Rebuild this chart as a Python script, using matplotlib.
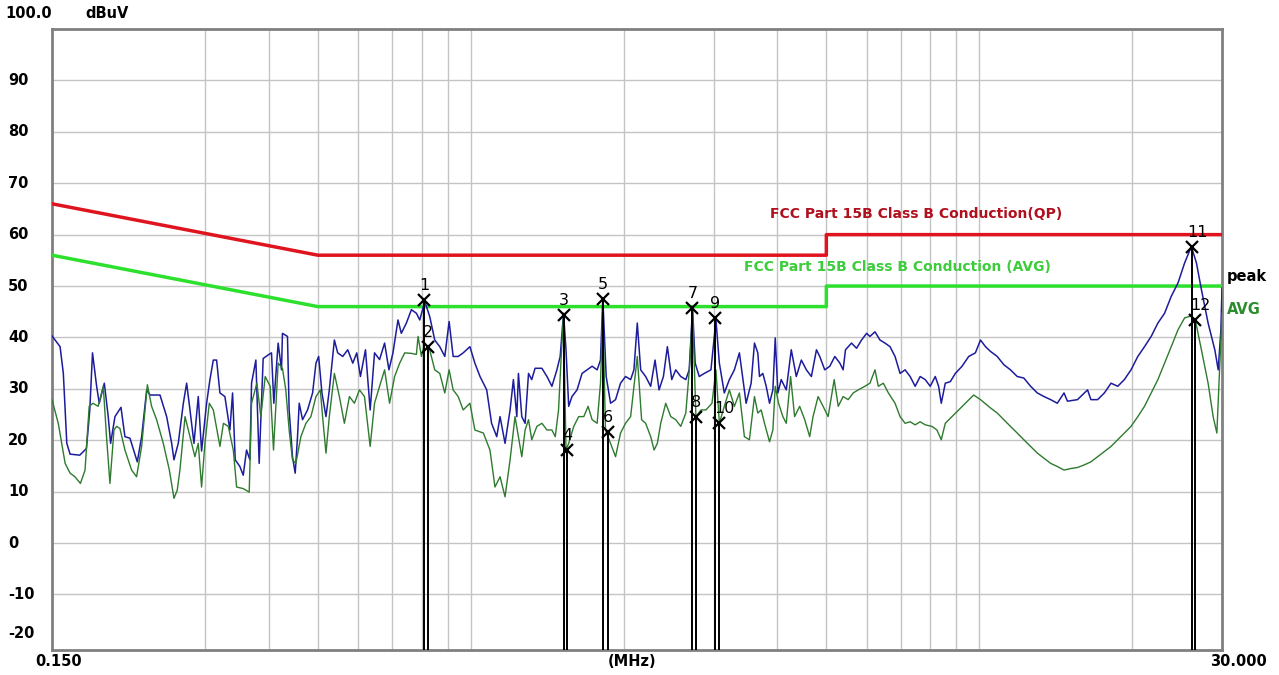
import matplotlib
matplotlib.use("Agg")
import matplotlib.pyplot as plt
import matplotlib.transforms as mtransforms

# peak trace (MHz, dBuV)
peak_freq = [0.150, 0.1556, 0.1579, 0.1604, 0.1628, 0.1701, 0.1753, 0.1780, 0.1802, 0.1836,
             0.1858, 0.1901, 0.1935, 0.1956, 0.1995, 0.2050, 0.2087, 0.2135, 0.2207, 0.2251,
             0.2303, 0.2338, 0.2446, 0.2521, 0.2579, 0.2606, 0.2657, 0.2719, 0.2760, 0.2802,
             0.2853, 0.2909, 0.2953, 0.3021, 0.3067, 0.3114, 0.3161, 0.3209, 0.3282, 0.3357,
             0.3398, 0.3439, 0.3512, 0.3566, 0.3620, 0.3675, 0.3703, 0.3776, 0.3833, 0.3903,
             0.3992, 0.4053, 0.4096, 0.4177, 0.4241,
             0.4259, 0.4357, 0.4390, 0.4457, 0.4512, 0.4560, 0.4595, 0.4665, 0.4772, 0.4882,
             0.4957, 0.5018, 0.5093, 0.5187, 0.5266, 0.5388, 0.5470, 0.5596, 0.5724, 0.5856,
             0.5963, 0.6063, 0.6203, 0.6336, 0.6463, 0.6612, 0.6764, 0.6898, 0.7025, 0.7187,
             0.7296, 0.7465, 0.7637, 0.7812, 0.7932, 0.8114, 0.8296, 0.8489, 0.8684, 0.8884,
             0.9060, 0.9226, 0.9438, 0.9656, 0.9954, 1.018, 1.042, 1.074, 1.098, 1.124,
             1.141, 1.167, 1.194, 1.212, 1.231,
             1.240, 1.259, 1.278, 1.298, 1.317, 1.337, 1.379, 1.411, 1.443, 1.476,
             1.498, 1.521, 1.538, 1.557, 1.580, 1.617, 1.654, 1.692, 1.731, 1.771,
             1.798, 1.817, 1.845, 1.882, 1.925, 1.969, 2.014, 2.061, 2.092, 2.124,
             2.157, 2.206, 2.257, 2.302, 2.344, 2.391, 2.434, 2.483, 2.528, 2.586,
             2.646, 2.687, 2.728, 2.761, 2.812, 2.877, 2.965, 3.033, 3.080, 3.150,
             3.223, 3.297, 3.373, 3.435, 3.477, 3.557,
             3.611, 3.666, 3.694, 3.750, 3.808, 3.866, 3.925, 3.967, 4.015, 4.076,
             4.170, 4.266, 4.364, 4.465, 4.568, 4.673, 4.781, 4.853, 4.964, 5.079,
             5.196, 5.316, 5.395, 5.453, 5.604, 5.733, 5.865, 6.000, 6.092, 6.232,
             6.375, 6.522, 6.672, 6.825, 6.982, 7.143, 7.308, 7.476, 7.648, 7.824,
             8.004, 8.188, 8.314, 8.414, 8.569, 8.766, 8.967, 9.245, 9.528, 9.820,
             10.05, 10.28,
             10.51, 10.84, 11.17, 11.51, 11.87, 12.23, 12.61, 13.00, 13.40, 13.81,
             14.23, 14.67, 14.90, 15.59, 16.32, 16.57, 17.08, 17.61, 18.15, 18.71,
             19.28, 19.87, 20.49, 21.12, 21.77, 22.44, 23.13, 23.84, 24.58, 25.33,
             26.11, 26.72, 27.33, 28.17, 29.04, 29.49, 29.85, 30.00]
peak_db = [40.3, 38.2, 33.0, 19.4, 17.3, 17.1, 18.4, 25.9, 37.0, 30.5,
           27.2, 31.1, 24.6, 19.4, 24.6, 26.4, 20.7, 20.4, 15.8, 20.7,
           29.8, 28.8, 28.8, 24.6, 19.4, 16.2, 19.4, 27.2, 31.1, 25.9,
           19.4, 28.5, 17.9, 27.2, 31.8, 35.6, 35.6, 29.2, 28.5, 22.0,
           29.2, 16.2, 14.9, 13.2, 18.1, 16.2, 31.1, 35.6, 15.5, 35.9,
           36.6, 37.0, 27.2, 38.9, 33.7,
           40.8, 40.2, 25.9, 16.8, 13.6, 20.7, 27.2, 24.0, 25.9, 29.2,
           35.0, 36.3, 29.2, 24.6, 29.8, 39.5, 37.0, 36.3, 37.6, 35.0,
           37.0, 32.4, 37.6, 25.9, 37.0, 35.7, 38.9, 33.7, 37.0, 43.4,
           40.8, 42.8, 45.4, 44.7, 43.4, 47.0, 44.1, 39.5, 38.2, 36.3,
           43.1, 36.3, 36.3, 37.0, 38.2, 35.0, 32.4, 29.8, 23.3, 20.7,
           24.6, 19.4, 25.9, 31.8, 24.6,
           33.0, 24.6, 23.3, 33.0, 31.8, 34.0, 34.0, 32.4, 30.5, 33.7,
           36.3, 44.7, 37.6, 26.6, 28.5, 29.8, 33.0, 33.7, 34.4, 33.7,
           35.6, 47.6, 32.4, 27.2, 27.9, 31.1, 32.4, 31.8, 33.7, 42.8,
           33.7, 32.4, 30.5, 35.6, 29.8, 32.4, 38.2, 31.8, 33.7, 32.4,
           31.8, 33.7, 45.7, 35.0, 32.4, 33.0, 33.7, 43.4, 35.0, 29.2,
           31.8, 33.7, 37.0, 31.1, 27.2, 31.1,
           38.9, 37.0, 32.4, 33.0, 30.5, 27.2, 29.8, 39.9, 29.2, 31.8,
           29.8, 37.6, 32.4, 35.6, 33.7, 32.4, 37.6, 36.3, 33.7, 34.4,
           36.3, 35.0, 33.7, 37.6, 38.9, 37.9, 39.5, 40.8, 40.2, 41.1,
           39.5, 38.9, 38.2, 36.3, 33.0, 33.7, 32.4, 30.5, 32.4, 31.8,
           30.5, 32.4, 30.5, 27.2, 31.1, 31.4, 33.0, 34.4, 36.3, 37.0,
           39.5, 38.2,
           37.3, 36.3, 34.7, 33.7, 32.4, 32.1, 30.5, 29.2, 28.5, 27.9,
           27.2, 29.2, 27.6, 27.9, 29.8, 27.9, 27.9, 29.2, 31.1, 30.5,
           31.8, 33.7, 36.3, 38.2, 40.2, 42.8, 44.7, 48.0, 50.6, 54.5,
           57.7, 54.5, 49.3, 42.8, 37.6, 33.7, 41.5, 49.6]

# average trace (MHz, dBuV)
avg_freq = [0.150, 0.1543, 0.1592, 0.1628, 0.1664, 0.1706, 0.1742, 0.1775, 0.1806, 0.1848,
            0.1892, 0.1920, 0.1950, 0.1986, 0.2010, 0.2040, 0.2087, 0.2151, 0.2200, 0.2251,
            0.2310, 0.2355, 0.2409, 0.2483, 0.2552, 0.2606, 0.2645, 0.2677, 0.2740, 0.2802,
            0.2865, 0.2909, 0.2953, 0.2998, 0.3058, 0.3114, 0.3209, 0.3260, 0.3333, 0.3409,
            0.3461, 0.3566, 0.3664, 0.3703, 0.3793, 0.3862, 0.3939, 0.4029, 0.4090, 0.4177,
            0.4259, 0.4324, 0.4390, 0.4457, 0.4526, 0.4630, 0.4737, 0.4845, 0.4957, 0.5056,
            0.5108, 0.5187, 0.5266, 0.5388, 0.5512, 0.5638, 0.5768, 0.5900, 0.6036, 0.6175,
            0.6336, 0.6463, 0.6612, 0.6764, 0.6918, 0.7078, 0.7242, 0.7409, 0.7637, 0.7812,
            0.7871, 0.7992, 0.8114, 0.8296, 0.8489, 0.8684, 0.8884, 0.9060, 0.9226, 0.9438,
            0.9656, 0.9954, 1.018, 1.058, 1.090, 1.115, 1.141, 1.167, 1.194, 1.221,
            1.240, 1.259, 1.278, 1.298, 1.317, 1.348, 1.379, 1.411, 1.443, 1.465,
            1.487, 1.505, 1.521, 1.538, 1.557, 1.593, 1.629, 1.667, 1.700, 1.731,
            1.771, 1.798, 1.817, 1.839, 1.882, 1.925, 1.969, 2.014, 2.061, 2.092,
            2.124, 2.166, 2.206, 2.257, 2.292, 2.326, 2.362, 2.416, 2.472, 2.528,
            2.586, 2.646, 2.695, 2.728, 2.770, 2.835, 2.899, 2.979, 3.033, 3.080,
            3.150, 3.223, 3.297, 3.373, 3.450, 3.529,
            3.611, 3.666, 3.722, 3.779, 3.866, 3.925, 3.967, 4.027, 4.107, 4.170,
            4.253, 4.331, 4.431, 4.534, 4.637, 4.708, 4.817, 4.927, 5.041, 5.181,
            5.277, 5.395, 5.520, 5.647, 5.777, 5.955, 6.092, 6.232, 6.327, 6.472,
            6.622, 6.825, 6.982, 7.143, 7.308, 7.476, 7.648, 7.824, 8.065, 8.250,
            8.414, 8.569, 8.831, 9.105, 9.384, 9.745, 10.05,
            10.51, 10.84, 11.17, 11.51, 11.87, 12.23, 12.61, 13.00, 13.40, 13.81,
            14.23, 14.67, 15.13, 15.59, 16.07, 16.57, 17.08, 17.61, 18.15, 18.71,
            19.28, 19.87, 20.49, 21.12, 21.77, 22.44, 23.13, 23.84, 24.58, 25.33,
            26.11, 26.58, 27.33, 28.17, 28.82, 29.31, 29.71, 30.00]
avg_db = [27.9, 23.3, 15.5, 13.6, 12.9, 11.6, 14.2, 26.6, 27.2, 26.6,
          30.5, 20.7, 11.6, 22.0, 22.7, 22.3, 18.1, 14.2, 12.9, 18.8,
          30.8, 26.6, 24.0, 19.4, 14.2, 8.7, 10.3, 14.2, 24.6, 20.7,
          16.8, 19.4, 10.9, 19.4, 27.2, 25.9, 18.8, 23.3, 22.7, 18.1,
          10.9, 10.6, 9.9, 27.2, 31.1, 24.6, 32.4, 30.5, 18.1, 35.0,
          34.0, 29.8, 22.0, 16.2, 15.5, 20.7, 23.3, 24.6, 28.5, 29.8,
          24.6, 17.5, 24.6, 33.0, 28.5, 23.3, 28.5, 27.2, 29.8, 28.5,
          18.8, 27.2, 30.5, 33.7, 27.2, 32.4, 35.0, 37.0, 36.9, 36.7,
          40.2, 36.3, 38.9, 37.6, 33.7, 33.0, 29.2, 33.7, 29.8, 28.5,
          25.9, 27.2, 22.0, 21.4, 18.1, 10.9, 12.9, 9.0, 16.2, 24.6,
          20.7, 16.8, 22.0, 24.0, 20.1, 22.7, 23.3, 22.0, 22.0, 20.7,
          25.9, 36.3, 44.1, 18.1, 19.4, 22.7, 24.6, 24.6, 26.6, 24.0,
          23.3, 31.1, 45.4, 22.0, 19.4, 16.8, 21.4, 23.3, 24.6, 30.5,
          36.3, 24.0, 23.3, 20.7, 18.1, 19.4, 23.3, 27.2, 24.6, 24.0,
          22.7, 25.3, 35.0, 45.4, 24.6, 25.9, 25.9, 27.2, 33.7, 23.3,
          26.6, 29.8, 26.6, 29.2, 20.7, 20.1,
          28.5, 25.3, 25.9, 23.3, 19.7, 22.0, 30.5, 27.2, 24.6, 23.3,
          32.4, 24.6, 26.6, 24.0, 20.7, 24.6, 28.5, 26.6, 24.6, 31.8,
          26.6, 28.5, 27.9, 29.2, 29.8, 30.5, 31.1, 33.7, 30.5, 31.1,
          29.2, 27.2, 24.6, 23.3, 23.6, 23.0, 23.6, 23.0, 22.7, 22.0,
          20.1, 23.3, 24.6, 25.9, 27.2, 28.8, 27.9,
          26.3, 25.3, 24.0, 22.7, 21.4, 20.1, 18.8, 17.5, 16.5, 15.5,
          14.9, 14.2, 14.5, 14.7, 15.2, 15.8, 16.8, 17.8, 18.8, 20.1,
          21.4, 22.7, 24.6, 26.6, 29.2, 31.8, 35.0, 38.2, 41.5, 43.8,
          44.2, 43.4, 37.6, 31.1, 24.6, 21.4, 35.0, 44.7]

# limit lines
qp_freq = [0.15, 0.5, 5.0, 5.0, 30.0]
qp_db = [66, 56, 56, 60, 60]
av_freq = [0.15, 0.5, 5.0, 5.0, 30.0]
av_db = [56, 46, 46, 50, 50]

# markers
mk_no = ['1', '2', '3', '4', '5', '6', '7', '8', '9', '10', '11', '12']
mk_freq = [0.809, 0.823, 1.521, 1.543, 1.817, 1.858, 2.724, 2.773, 3.023, 3.079, 26.2, 26.6]
mk_db = [47.2, 38.1, 44.4, 18.1, 47.5, 21.7, 45.8, 24.6, 43.8, 23.4, 57.6, 43.4]

grid_freq = [0.3, 0.4, 0.5, 0.6, 0.7, 0.8, 0.9, 1, 2, 3, 4, 5, 6, 7, 8, 9, 10, 20]
ytick_vals = [90, 80, 70, 60, 50, 40, 30, 20, 10, 0, -10, -20]
ytick_text = ['90', '80', '70', '60', '50', '40', '30', '20', '10', '0', '-10', '-20']

fig = plt.figure(figsize=(12.79, 6.75), dpi=100)
ax = fig.add_axes([52 / 1279, 1 - 650 / 675, 1170 / 1279, 621 / 675])

ax.set_xscale('log')
ax.set_xlim(0.15, 30)
ax.set_ylim(-20.8, 100)
ax.set_xticks(grid_freq)
ax.set_xticks([], minor=True)
ax.set_yticks(range(-10, 100, 10))
ax.tick_params(length=0, labelbottom=False, labelleft=False)
ax.grid(True, color='#c4c4c4', lw=1)
for s in ax.spines.values():
    s.set_color('#808080')
    s.set_linewidth(2)

ax.plot(qp_freq, qp_db, color='#e0141e', lw=2.5, zorder=3)
ax.plot(av_freq, av_db, color='#2ee02e', lw=2.5, zorder=3)

ax.plot(peak_freq, peak_db, color='#1c1c9c', lw=1.1, zorder=4)
ax.plot(avg_freq, avg_db, color='#2e7a2e', lw=1.0, zorder=5)

# marker lines down to the bottom
ax.vlines(mk_freq, -20.8, mk_db, color='black', lw=1.4, zorder=6)
ax.plot(mk_freq, mk_db, 'x', color='black', ms=9, mew=1.6, zorder=7)
for n, f, v in zip(mk_no, mk_freq, mk_db):
    ax.annotate(n, (f, v), xytext=(-3.5, 5), textcoords='offset points',
                ha='left', va='bottom', fontsize=11.5, color='black', zorder=8)

ax.text(3.87, 64.0, 'FCC Part 15B Class B Conduction(QP)', color='#b0101e',
        fontsize=10, fontweight='bold', ha='left', va='center')
ax.text(3.45, 53.7, 'FCC Part 15B Class B Conduction (AVG)', color='#3ccc3c',
        fontsize=10, fontweight='bold', ha='left', va='center')

tr_right = mtransforms.blended_transform_factory(ax.transAxes, ax.transData)
ax.text(1.004, 51.8, 'peak', transform=tr_right, ha='left', va='center',
        fontsize=10.5, fontweight='bold', color='black', clip_on=False)
ax.text(1.004, 45.5, 'AVG', transform=tr_right, ha='left', va='center',
        fontsize=10.5, fontweight='bold', color='#2e8b2e', clip_on=False)

tr_left = mtransforms.blended_transform_factory(fig.transFigure, ax.transData)
for v, t in zip(ytick_vals, ytick_text):
    ax.text(8 / 1279, v if v > -20 else -17.5, t, transform=tr_left, ha='left', va='center',
            fontsize=10.5, fontweight='bold', clip_on=False)

fig.text(5 / 1279, 1 - 14 / 675, '100.0', ha='left', va='center', fontsize=10.5, fontweight='bold')
fig.text(85 / 1279, 1 - 14 / 675, 'dBuV', ha='left', va='center', fontsize=10.5, fontweight='bold')

ax.text(-17 / 1170, -0.019, '0.150', transform=ax.transAxes, ha='left', va='center',
        fontsize=10.5, fontweight='bold', clip_on=False)
ax.text(0.4957, -0.019, '(MHz)', transform=ax.transAxes, ha='center', va='center',
        fontsize=10.5, fontweight='bold', clip_on=False)
ax.text(1215 / 1170, -0.019, '30.000', transform=ax.transAxes, ha='right', va='center',
        fontsize=10.5, fontweight='bold', clip_on=False)

plt.savefig('out.png', dpi=100)
